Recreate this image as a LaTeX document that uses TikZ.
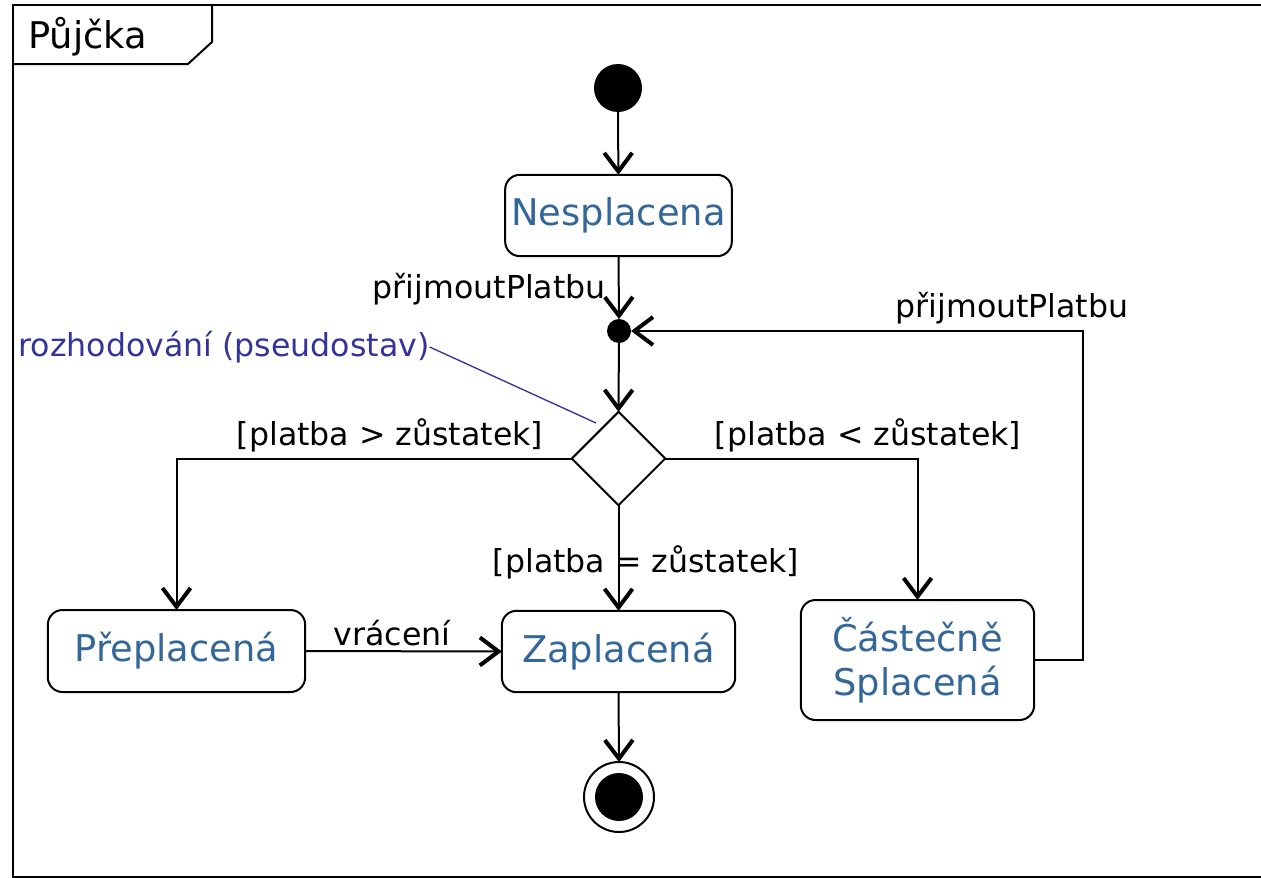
\documentclass[tikz,border=0pt]{standalone}
\usepackage{fontspec}
\setmainfont{DejaVu Sans}
\usetikzlibrary{arrows.meta,shapes.geometric}
\definecolor{statecol}{RGB}{51,102,153}
\definecolor{notecol}{RGB}{51,51,153}
\tikzset{
  state/.style={draw, line width=1.5pt, rounded corners=11pt, inner sep=0pt, outer sep=0pt,
    text=statecol, font=\fontsize{27.6}{33}\selectfont, align=center},
  lbl/.style={inner sep=0pt, font=\fontsize{23.7}{28}\selectfont},
  arr/.style={line width=1.5pt, -{Straight Barb[length=14pt,width=21pt,line width=3pt]}},
  ln/.style={line width=1.5pt},
}
\begin{document}
\begin{tikzpicture}[x=0.75pt,y=-0.75pt]
\useasboundingbox (0,0) rectangle (1261,878);
% frame
\draw[line width=1.5pt] (13,878) -- (13,5) -- (1262,5);
\draw[line width=1.5pt] (13,876.5) -- (1262,876.5);
\draw[line width=1.5pt] (13,64) -- (188,64) -- (212,42) -- (212,5);
\node[anchor=west, inner sep=0pt, font=\fontsize{27.6}{33}\selectfont] (title) at (28,37) {Půjčka};
% nodes
\node[circle, fill=black, minimum size=36pt, inner sep=0pt, outer sep=0pt] (init) at (618,88) {};
\node[state, minimum width=170pt, minimum height=61pt] (nes) at (618.5,215.5) {Nesplacena};
\node[circle, fill=black, minimum size=18pt, inner sep=0pt, outer sep=0pt] (junc) at (619,331) {};
\node[diamond, draw, line width=1.5pt, aspect=1, minimum size=70pt, inner sep=0pt, outer sep=0pt] (dec) at (618.5,458.5) {};
\node[state, minimum width=193pt, minimum height=61.5pt] (pre) at (176.5,651) {Přeplacená};
\node[state, minimum width=175pt, minimum height=61pt] (zap) at (618.5,651.5) {Zaplacená};
\node[state, minimum width=175pt, minimum height=90pt] (cas) at (917.5,660) {Částečně\\Splacená};
\node[circle, draw, line width=1.5pt, minimum size=52.5pt, inner sep=0pt, outer sep=0pt] (fin) at (619,797) {};
\node[circle, fill=black, minimum size=36pt, inner sep=0pt] (finin) at (619,797) {};
% connectors
\draw[arr] (init) -- (nes);
\draw[arr] (nes.south) -- (junc.north);
\node[lbl, anchor=east] (l1) at (606,289) {přijmoutPlatbu};
\draw[arr] (junc) -- (dec.north);
\draw[arr] (dec.west) -| (pre.north);
\node[lbl] (l2) at (390,435) {[platba > zůstatek]};
\draw[arr] (dec.east) -| (cas.north);
\node[lbl] (l3) at (868,435) {[platba < zůstatek]};
\draw[arr] (dec.south) -- (zap.north);
\node[lbl] (l4) at (646,562) {[platba = zůstatek]};
\draw[arr] (pre.east) -- (zap.west);
\node[lbl] (l5) at (392,633) {vrácení};
\draw[arr] (zap.south) -- (fin.north);
\draw[arr] (cas.east) -- ++(49,0) |- (junc.east);
\node[lbl] (l6) at (1012,308) {přijmoutPlatbu};
% note
\node[lbl, text=notecol] (note) at (224,347) {rozhodování (pseudostav)};
\coordinate (notetip) at (596,423);
\draw[notecol, line width=1pt] (note.east) -- (notetip);
\end{tikzpicture}
\end{document}
